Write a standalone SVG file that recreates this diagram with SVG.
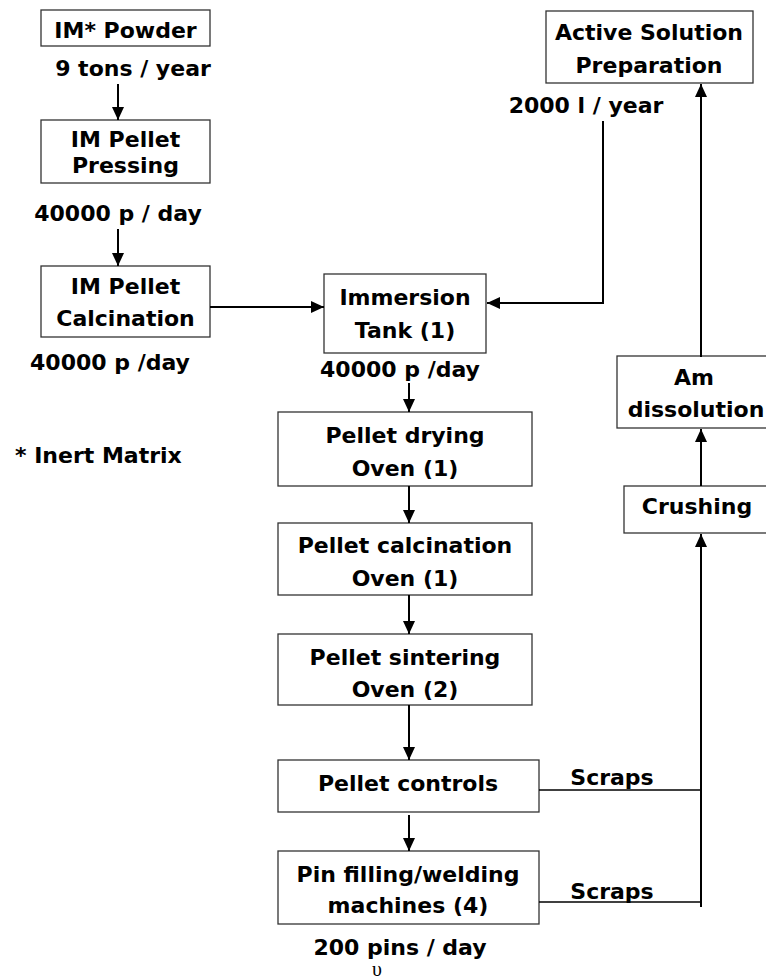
<svg xmlns="http://www.w3.org/2000/svg" width="766" height="979" viewBox="0 0 766 979">
<style>
.box{fill:#fff;stroke:#333;stroke-width:1.3}
.t{font-family:"DejaVu Sans","Liberation Sans",sans-serif;font-weight:bold;font-size:22px;fill:#000;text-anchor:middle}
.ts{text-anchor:start}
.c{fill:none;stroke:#000;stroke-width:2}
.c1{fill:none;stroke:#000;stroke-width:1.6}
</style>
<defs>
<marker id="ah" markerUnits="userSpaceOnUse" markerWidth="13" markerHeight="12" refX="13" refY="6" orient="auto">
<path d="M0,0 L13,6 L0,12 z" fill="#000"/>
</marker>
</defs>
<rect width="766" height="979" fill="#fff"/>
<g id="im-powder">
<rect class="box" x="41" y="10" width="169" height="36"/>
<text class="t" x="125.5" y="38">IM* Powder</text>
<text class="t" x="133" y="76">9 tons / year</text>
</g>
<g id="im-pressing">
<rect class="box" x="41" y="120" width="169" height="63"/>
<text class="t" x="125.5" y="147">IM Pellet</text>
<text class="t" x="125.5" y="173">Pressing</text>
<text class="t" x="118" y="221">40000 p / day</text>
</g>
<g id="im-calcination">
<rect class="box" x="41" y="266" width="169" height="71"/>
<text class="t" x="125.5" y="294">IM Pellet</text>
<text class="t" x="125.5" y="326">Calcination</text>
<text class="t" x="110" y="370">40000 p /day</text>
</g>
<g id="note">
<text class="t ts" x="15" y="463">* Inert Matrix</text>
</g>
<g id="immersion">
<rect class="box" x="324" y="274" width="162" height="79"/>
<text class="t" x="405" y="305">Immersion</text>
<text class="t" x="405" y="338">Tank (1)</text>
<text class="t" x="400" y="377">40000 p /day</text>
</g>
<g id="active-solution">
<rect class="box" x="546" y="11" width="207" height="72"/>
<text class="t" x="649" y="40">Active Solution</text>
<text class="t" x="649" y="73">Preparation</text>
<text class="t" x="586" y="113">2000 l / year</text>
</g>
<g id="am-dissolution">
<rect class="box" x="617" y="356" width="150" height="72"/>
<text class="t" x="694" y="385">Am</text>
<text class="t" x="696" y="417">dissolution</text>
</g>
<g id="crushing">
<rect class="box" x="624" y="486" width="143" height="47"/>
<text class="t" x="697" y="514">Crushing</text>
</g>
<g id="drying">
<rect class="box" x="278" y="412" width="254" height="74"/>
<text class="t" x="405" y="443">Pellet drying</text>
<text class="t" x="405" y="476">Oven (1)</text>
</g>
<g id="calcination">
<rect class="box" x="278" y="523" width="254" height="72"/>
<text class="t" x="405" y="553">Pellet calcination</text>
<text class="t" x="405" y="586">Oven (1)</text>
</g>
<g id="sintering">
<rect class="box" x="278" y="634" width="254" height="71"/>
<text class="t" x="405" y="665">Pellet sintering</text>
<text class="t" x="405" y="697">Oven (2)</text>
</g>
<g id="controls">
<rect class="box" x="278" y="760" width="261" height="52"/>
<text class="t" x="408" y="791">Pellet controls</text>
</g>
<g id="pin-filling">
<rect class="box" x="278" y="851" width="261" height="73"/>
<text class="t" x="408" y="882">Pin filling/welding</text>
<text class="t" x="408" y="913">machines (4)</text>
<text class="t" x="400" y="955">200 pins / day</text>
<text x="377" y="976" font-family="Liberation Serif,serif" font-size="20" fill="#000" text-anchor="middle">υ</text>
</g>
<g id="connectors">
<line class="c" x1="118" y1="84" x2="118" y2="120" marker-end="url(#ah)"/>
<line class="c" x1="118" y1="229" x2="118" y2="266" marker-end="url(#ah)"/>
<line class="c" x1="210" y1="307" x2="324" y2="307" marker-end="url(#ah)"/>
<polyline class="c" points="603,121 603,303 487,303" marker-end="url(#ah)"/>
<line class="c" x1="701" y1="357" x2="701" y2="84" marker-end="url(#ah)"/>
<line class="c" x1="701" y1="486" x2="701" y2="429" marker-end="url(#ah)"/>
<line class="c" x1="701" y1="907" x2="701" y2="534" marker-end="url(#ah)"/>
<line class="c" x1="409" y1="383" x2="409" y2="412" marker-end="url(#ah)"/>
<line class="c" x1="409" y1="486" x2="409" y2="523" marker-end="url(#ah)"/>
<line class="c" x1="409" y1="595" x2="409" y2="634" marker-end="url(#ah)"/>
<line class="c" x1="409" y1="705" x2="409" y2="760" marker-end="url(#ah)"/>
<line class="c" x1="409" y1="815" x2="409" y2="851" marker-end="url(#ah)"/>
<line class="c1" x1="539" y1="790" x2="701" y2="790"/>
<line class="c1" x1="539" y1="902" x2="701" y2="902"/>
<text class="t" x="612" y="785">Scraps</text>
<text class="t" x="612" y="899">Scraps</text>
</g>
</svg>
